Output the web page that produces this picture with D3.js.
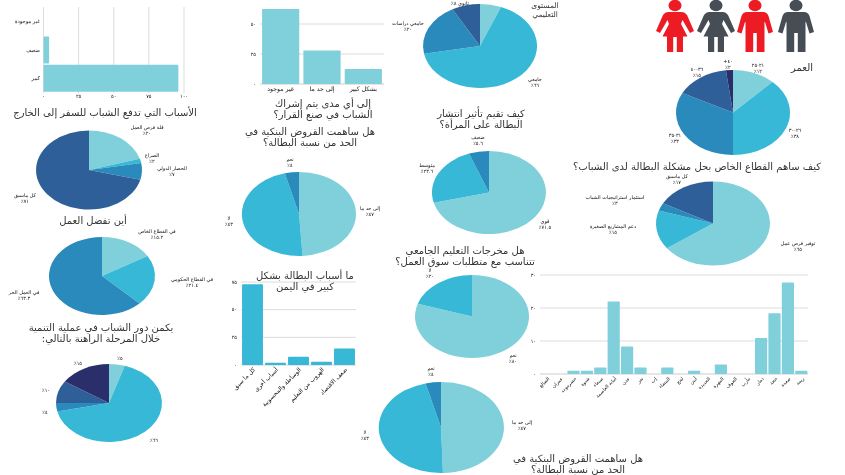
<!DOCTYPE html>
<html><head><meta charset="utf-8">
<style>html,body{margin:0;padding:0;background:#fff;overflow:hidden}svg{display:block;filter:blur(0.4px)}text{font-family:"DejaVu Sans",sans-serif}</style>
<script src="https://cdn.jsdelivr.net/npm/d3@7"></script></head><body><svg id="c" width="845" height="475"></svg>
<script>
// ---- data ----
const C={l:"#80d0dc",t:"#37b8d6",b:"#2b8abc",d:"#2f5f99",n:"#2a2f6c"};
const travelValues=[20.4,1.8,6.8,71], travelColors=[C.l,C.t,C.b,C.d];
const workValues=[16.4,21.1,62.5], workColors=[C.l,C.t,C.b];
const roleValues=[4.8,66.7,3.5,9.3,15.7], roleColors=[C.l,C.t,C.b,C.d,C.n];
const eduValues=[6,66,20,8], eduColors=[C.l,C.t,C.b,C.d];
const loansValues=[49,47,4], loansColors=[C.l,C.t,C.b];
const womenValues=[71,23.3,5.7], womenColors=[C.l,C.t,C.b];
const uniValues=[80,20], uniColors=[C.l,C.t];
const loans2Values=[49.5,46.5,4], loans2Colors=[C.l,C.t,C.b];
const ageValues=[12.2,37.8,32.6,15.4,2], ageColors=[C.l,C.t,C.b,C.d,C.n];
const privateValues=[65,15,3,17], privateColors=[C.l,C.t,C.b,C.d];
const hLabels=["غير موجودة","ضعيف","كبير"], hValues=[0,4,96], hTickValues=[0,25,50,75,100];
const engageLabels=["غير موجود","إلى حد ما","بشكل كبير"], engageValues=[62.5,28,12.4];
const causeLabels=["كل ما سبق","أسباب أخرى","الوساطة والمحسوبية","الهروب من التعليم","ضعف الاقتصاد"], causeValues=[73,2,7.5,3,15];
const govLabels=["الضالع","عمران","حضرموت","شبوة","صنعاء","أمانة العاصمة","عدن","تعز","إب","البيضاء","لحج","أبين","الحديدة","المهرة","الجوف","مأرب","ذمار","حجة","صعدة","ريمة"];
const govValues=[0,0,1,1,2,22,8.3,2,0,2,0,1,0,2.9,0,0,10.9,18.4,27.7,1];
const ar=n=>String(n).replace(/\d/g,d=>"٠١٢٣٤٥٦٧٨٩"[d]);

// ---- drawing ----
const svg=d3.select("#c");
const ink="#333";
function label(x,y,lines,size,col){
  const g=svg.append("g");
  lines.forEach((s,i)=>g.append("text").attr("x",x).attr("y",y+i*(size+1.2)).attr("text-anchor","middle").attr("direction","rtl").attr("font-size",size).attr("fill",col||"#111").text(s));
}
function title(x,y,lines,size,gap){
  lines.forEach((s,i)=>{svg.append("text").attr("x",x).attr("y",y+i*(gap||11.3)).attr("text-anchor","middle").attr("direction","rtl").attr("font-size",size||10).attr("fill",ink).text(s);});
}
function pie(cx,cy,rx,ry,values,colors){
  const arcs=d3.pie().sort(null)(values);
  const arc=d3.arc().innerRadius(0).outerRadius(1);
  const g=svg.append("g").attr("transform",`translate(${cx},${cy}) scale(${rx},${ry})`);
  g.selectAll("path").data(arcs).join("path").attr("d",arc).attr("fill",(d,i)=>colors[i]);
}
// horizontal bars
(function(){
  const x=d3.scaleLinear([0,100],[43.5,184]);
  const y=d3.scaleBand(hLabels,[7,93]).padding(0.04);
  hTickValues.forEach(t=>svg.append("line").attr("x1",x(t)).attr("x2",x(t)).attr("y1",7).attr("y2",93).attr("stroke","#dcdcdc"));
  svg.selectAll(".hb").data(hValues).join("rect").attr("x",x(0)).attr("y",(d,i)=>y(hLabels[i])).attr("width",d=>x(d)-x(0)).attr("height",y.bandwidth()).attr("rx",1).attr("fill",C.l);
  hLabels.forEach((s,i)=>svg.append("text").attr("x",40).attr("y",y(s)+y.bandwidth()/2+1.5).attr("text-anchor","start").attr("direction","rtl").attr("font-size",5.2).attr("fill","#111").text(s));
  hTickValues.forEach(t=>svg.append("text").attr("x",x(t)).attr("y",98).attr("text-anchor","middle").attr("font-size",5).attr("fill","#111").text(ar(t)));
})();
// vertical bars helper
function vbars(x0,x1,y0,yMax,vMax,ticks,labels,values,col,rot,pad,lx,fs){
  const y=d3.scaleLinear([0,vMax],[y0,yMax]);
  const x=d3.scaleBand(labels,[x0,x1]).paddingInner(pad).paddingOuter(pad/2);
  ticks.forEach(t=>{
    svg.append("line").attr("x1",lx).attr("x2",x1).attr("y1",y(t)).attr("y2",y(t)).attr("stroke",t==0?"#ccc":"#dcdcdc").attr("stroke-width",1);
    svg.append("text").attr("x",lx-4).attr("y",y(t)+1.7).attr("text-anchor","end").attr("font-size",5).attr("fill","#111").text(ar(t));
  });
  svg.append("g").selectAll("rect").data(values).join("rect").attr("x",(d,i)=>x(labels[i])).attr("y",d=>y(d)).attr("width",x.bandwidth()).attr("height",d=>y0-y(d)).attr("rx",0.8).attr("fill",col);
  labels.forEach(s=>{
    const px=x(s)+x.bandwidth()/2;
    const t=svg.append("text").attr("font-size",fs).attr("fill","#111").attr("direction","rtl").text(s);
    if(rot) t.attr("text-anchor","start").attr("transform",`translate(${px+3},${y0+5}) rotate(-45)`);
    else t.attr("text-anchor","middle").attr("x",px).attr("y",y0+7);
  });
}
vbars(260,384,84,24,50,[0,25,50],engageLabels,engageValues,C.l,false,0.1,260,6.2);
vbars(241,356,365,282,75,[0,25,50,75],causeLabels,causeValues,C.t,true,0.09,241,6);
vbars(540,808,374,275,30,[0,10,20,30],govLabels,govValues,C.l,true,0.09,540,4.8);

pie(480,46,57,42,eduValues,eduColors);
pie(89,170,53,39.5,travelValues,travelColors);
pie(102,276,53,39,workValues,workColors);
pie(109,403,53,39,roleValues,roleColors);
pie(299,214,57,42,loansValues,loansColors);
pie(489,192.5,57,41.5,womenValues,womenColors);
pie(472,316.5,57,41.5,uniValues,uniColors);
pie(441,427.5,62,45.5,loans2Values,loans2Colors);
pie(733,112.5,57,42.5,ageValues,ageColors);
pie(713,223.5,57,42,privateValues,privateColors);

// titles
title(105,115.5,["الأسباب التي تدفع الشباب للسفر إلى الخارج"]);
title(93,223.5,["أين تفضل العمل"]);
title(101,330.5,["يكمن دور الشباب في عملية التنمية","خلال المرحلة الراهنة بالتالي:"]);
title(323,106.5,["إلى أي مدى يتم إشراك","الشباب في صنع القرار؟"]);
title(310,134.5,["هل ساهمت القروض البنكية في","الحد من نسبة البطالة؟"]);
title(305,278.5,["ما أسباب البطالة بشكل","كبير في اليمن"]);
title(481,116.5,["كيف تقيم تأثير انتشار","البطالة على المرأة؟"]);
title(465,253.5,["هل مخرجات التعليم الجامعي","تتناسب مع متطلبات سوق العمل؟"]);
title(578,461.5,["هل ساهمت القروض البنكية في","الحد من نسبة البطالة؟"]);
title(697,169.5,["كيف ساهم القطاع الخاص بحل مشكلة البطالة لدى الشباب؟"]);
title(802,70.5,["العمر"]);
title(545,7.5,["المستوى","التعليمي"],7.5,9);

// small labels
const S=5;
[[147,129,["قلة فرص العمل","٢٠٪"]],[152,157,["الصراع","٢٪"]],[172,170,["الحصار الدولي","٧٪"]],[25,197,["كل ماسبق","٧١٪"]],
 [157,233,["في القطاع الخاص","١٥.٢٪"]],[192,281,["في القطاع الحكومي","٢١.٤٪"]],[24,294,["في العمل الحر","٦٣.٣٪"]],
 [120,360,["٥٪"]],[78,365,["١٥٪"]],[46,392,["١٠٪"]],[45,414,["٤٪"]],[154,442,["٦٦٪"]],
 [290,161,["نعم","٤٪"]],[370,210,["إلى حد ما","٤٧٪"]],[229,220,["لا","٤٣٪"]],
 [478,139,["ضعيف","٥.٦٪"]],[427,167,["متوسط","٢٣.٦٪"]],[545,223,["قوي","٧١.٥٪"]],
 [430,272,["لا","٢٠٪"]],[513,357,["نعم","٨٠٪"]],
 [431,370,["نعم","٤٪"]],[365,434,["لا","٤٣٪"]],[522,424,["إلى حد ما","٤٧٪"]],
 [758,67,["٢١-٢٥","١٢٪"]],[795,132,["٢٦-٣٠","٣٨٪"]],[675,137,["٣١-٣٥","٣٣٪"]],[697,71,["٣٦-٤٠","١٥٪"]],[728,63,["٤٠+","٢٪"]],
 [677,178,["كل ماسبق","١٧٪"]],[615,199,["استثمار استراتيجيات الشباب","٣٪"]],[613,228,["دعم المشاريع الصغيرة","١٥٪"]],[798,245,["توفير فرص عمل","٦٥٪"]],
 [408,25,["جامعي دراسات","٢٠٪"]],[535,81,["جامعي","٦٦٪"]],[460,5,["ثانوي ٨٪"]]
].forEach(a=>label(a[0],a[1],a[2],S));

// people icons
const RED="#ed1c24", GREY="#474d55";
const female="M-7,12 L7,12 Q10,12 12,15 L19,31 L15,33 L7.5,20 L6,24 L12.5,36.5 L8,36.5 L8,52 L1.8,52 L1.8,37 L-1.8,37 L-1.8,52 L-8,52 L-8,36.5 L-12.5,36.5 L-6,24 L-7.5,20 L-15,33 L-19,31 L-12,15 Q-10,12 -7,12Z";
const male="M-8,12 L8,12 Q12,12 13.5,16 L18,32 L13.5,33.5 L10,22 L9.5,22 L9.5,52 L1.8,52 L1.8,33 L-1.8,33 L-1.8,52 L-9.5,52 L-9.5,22 L-10,22 L-13.5,33.5 L-18,32 L-13.5,16 Q-12,12 -8,12Z";
[[675,RED,female],[716,GREY,female],[755,RED,male],[796,GREY,male]].forEach(p=>{
  const g=svg.append("g").attr("transform",`translate(${p[0]},0)`).attr("fill",p[1]);
  g.append("ellipse").attr("cy",5.5).attr("rx",6.5).attr("ry",5.7);
  g.append("path").attr("d",p[2]);
});
</script></body></html>
